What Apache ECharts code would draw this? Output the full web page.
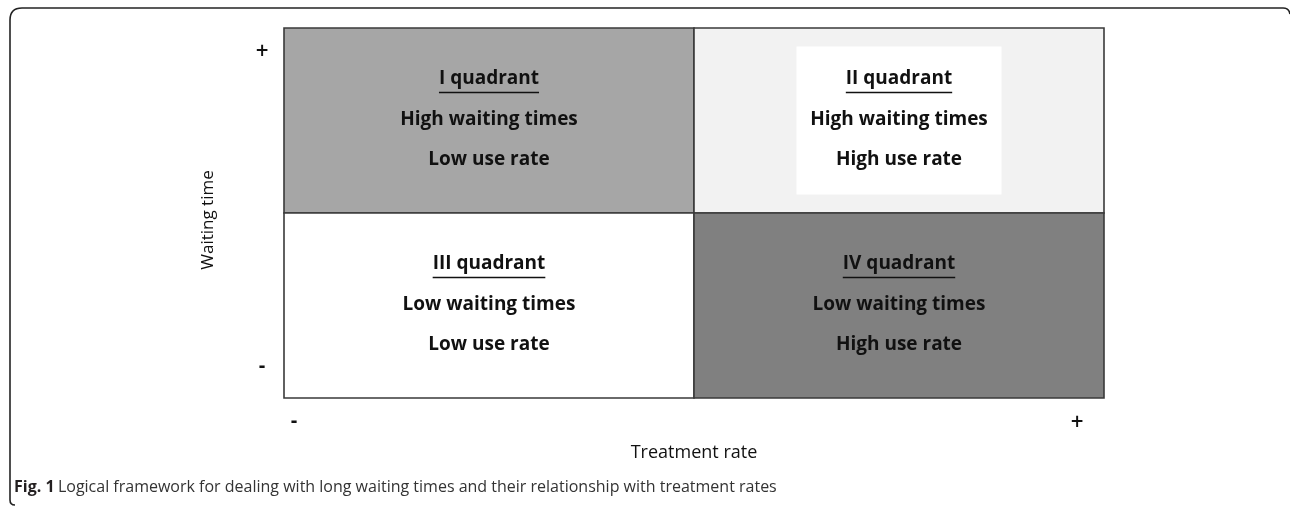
<!DOCTYPE html>
<html>
<head>
<meta charset="utf-8">
<script src="https://cdn.jsdelivr.net/npm/echarts@6/dist/echarts.min.js"></script>
<style>
  html, body { margin: 0; padding: 0; background: #fff; }
  #chart { width: 1290px; height: 506px; }
</style>
</head>
<body>
<div id="chart"></div>
<script>
// 象限数据
var quadrantX = [0, 1, 0, 1];
var quadrantY = [1, 1, 0, 0];
var quadrantTitles = ['I quadrant', 'II quadrant', 'III quadrant', 'IV quadrant'];
var waitingLabels = ['High waiting times', 'High waiting times', 'Low waiting times', 'Low waiting times'];
var useLabels = ['Low use rate', 'High use rate', 'Low use rate', 'High use rate'];
var quadrantFills = ['#a6a6a6', '#f2f2f2', '#ffffff', '#808080'];
// 坐标轴标签
var yTickLabels = ['+', '-'];
var xTickLabels = ['-', '+'];
var xAxisName = 'Treatment rate';
var yAxisName = 'Waiting time';
var captionBold = 'Fig. 1';
var captionText = 'Logical framework for dealing with long waiting times and their relationship with treatment rates';

var FONT = '"Open Sans", sans-serif';
var measureCtx = document.createElement('canvas').getContext('2d');
function textWidth (str, font) {
    measureCtx.font = font;
    return measureCtx.measureText(str).width;
}

function renderQuadrant (params, api) {
    var i = params.dataIndex;
    var x = api.value(0), y = api.value(1);
    var p0 = api.coord([x, y + 1]);
    var p1 = api.coord([x + 1, y]);
    var w = p1[0] - p0[0], h = p1[1] - p0[1];
    var cx = p0[0] + w / 2, cy = p0[1] + h / 2;
    var children = [{
        type: 'rect',
        shape: { x: p0[0], y: p0[1], width: w, height: h },
        style: { fill: quadrantFills[i], stroke: '#3a3a3a', lineWidth: 1.6 }
    }];
    // 第二象限中间的白色方块
    if (i === 1) {
        children.push({
            type: 'rect',
            shape: { x: p0[0] + w * 0.25, y: p0[1] + h * 0.1, width: w * 0.5, height: h * 0.8 },
            style: { fill: '#ffffff' }
        });
    }
    var font = 'bold 19px ' + FONT;
    var lines = [quadrantTitles[i], waitingLabels[i], useLabels[i]];
    var offs = [-42, -1, 39];
    lines.forEach(function (t, k) {
        children.push({
            type: 'text',
            style: {
                text: t, x: cx, y: cy + offs[k], align: 'center', verticalAlign: 'middle',
                font: font, fill: '#111'
            }
        });
    });
    var tw = textWidth(quadrantTitles[i], font);
    children.push({
        type: 'line',
        shape: { x1: cx - tw / 2, y1: cy - 28, x2: cx + tw / 2, y2: cy - 28 },
        style: { stroke: '#111', lineWidth: 1.6 }
    });
    return { type: 'group', children: children };
}

function initFramework () {
    var chart = echarts.init(document.getElementById('chart'), null, { renderer: 'canvas' });
    var data = quadrantX.map(function (x, i) { return [x, quadrantY[i]]; });
    var signFont = 'bold 17px "DejaVu Sans", sans-serif';
    var frameStyle = { fill: 'none', stroke: '#222', lineWidth: 1.6 };
    var nameStyle = { fontFamily: FONT, fontSize: 18, fontWeight: 500, color: '#111' };
    var option = {
        animation: false,
        grid: { left: 284, right: 186, top: 28, bottom: 108 },
        xAxis: {
            type: 'value', min: 0, max: 2,
            name: xAxisName, nameLocation: 'middle', nameGap: 46,
            nameTextStyle: nameStyle,
            axisLine: { show: false }, axisTick: { show: false },
            axisLabel: { show: false }, splitLine: { show: false }
        },
        yAxis: {
            type: 'value', min: 0, max: 2,
            name: yAxisName, nameLocation: 'middle', nameGap: 67,
            nameTextStyle: Object.assign({ padding: [0, 14, 0, 0] }, nameStyle, { fontSize: 17 }),
            axisLine: { show: false }, axisTick: { show: false },
            axisLabel: { show: false }, splitLine: { show: false }
        },
        series: [{
            type: 'custom',
            renderItem: renderQuadrant,
            data: data,
            silent: true
        }],
        graphic: [
            // 外框
            { type: 'polyline', shape: { points: [[10, 500], [10, 20]] }, style: frameStyle },
            { type: 'polyline', shape: { points: [[22, 8], [1283, 8]] }, style: frameStyle },
            { type: 'bezierCurve', shape: { x1: 10, y1: 20, x2: 22, y2: 8, cpx1: 10, cpy1: 8 }, style: frameStyle },
            { type: 'bezierCurve', shape: { x1: 1283, y1: 8, x2: 1290, y2: 14, cpx1: 1289, cpy1: 8 }, style: frameStyle },
            { type: 'bezierCurve', shape: { x1: 10, y1: 500, x2: 15, y2: 505, cpx1: 10, cpy1: 505 }, style: frameStyle },
            { type: 'text', x: 262, y: 52, style: { text: yTickLabels[0], font: signFont, fill: '#111', align: 'center', verticalAlign: 'middle' } },
            { type: 'text', x: 262, y: 368, style: { text: yTickLabels[1], font: signFont, fill: '#111', align: 'center', verticalAlign: 'middle' } },
            { type: 'text', x: 294, y: 423, style: { text: xTickLabels[0], font: signFont, fill: '#111', align: 'center', verticalAlign: 'middle' } },
            { type: 'text', x: 1077, y: 423, style: { text: xTickLabels[1], font: signFont, fill: '#111', align: 'center', verticalAlign: 'middle' } },
            {
                type: 'text', x: 14, y: 487,
                style: {
                    text: '{b|' + captionBold + '} {n|' + captionText + '}',
                    verticalAlign: 'middle',
                    rich: {
                        b: { fontFamily: FONT, fontWeight: 'bold', fontSize: 16, fill: '#231f20' },
                        n: { fontFamily: FONT, fontSize: 16, fill: '#333' }
                    }
                }
            }
        ]
    };
    chart.setOption(option);
    return chart;
}

var frameworkChart = initFramework();
window.onresize = function () {
    frameworkChart.resize();
};
</script>
</body>
</html>
